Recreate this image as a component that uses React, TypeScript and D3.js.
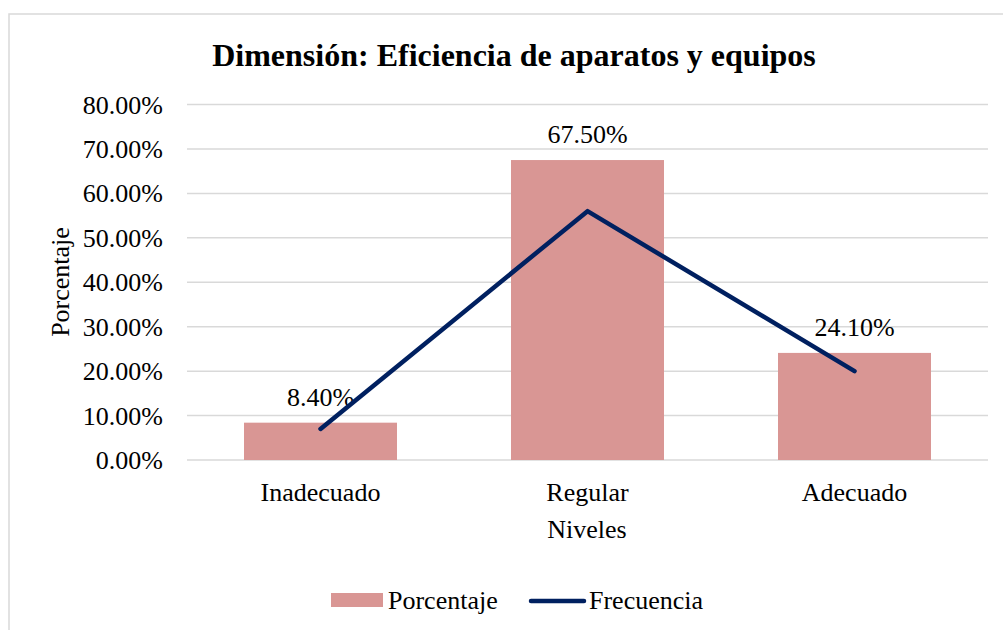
import React from "react";
import * as d3 from "d3";

const categories = ["Inadecuado", "Regular", "Adecuado"];
const porcentaje = [8.4, 67.5, 24.1];
const frecuencia = [7, 56, 20];
const yTicks = [0, 10, 20, 30, 40, 50, 60, 70, 80];

const W = 1003;
const H = 630;
const FONT = "'Liberation Serif', 'Times New Roman', serif";

export default function App() {
  const left = 187, right = 988, top = 104.5, bottom = 460;
  const x = d3.scaleBand<string>().domain(categories).range([left, right]).paddingInner(0.427).paddingOuter(0.2135);
  const y = d3.scaleLinear().domain([0, 80]).range([bottom, top]);
  const line = d3.line<number>()
    .x((_, i) => (x(categories[i]) as number) + x.bandwidth() / 2)
    .y((d) => y(d));

  return (
    <svg width={W} height={H} style={{ position: "absolute", left: 0, top: 0, background: "#fff" }} fontFamily={FONT}>
      <rect x={9} y={14} width={W} height={H} fill="#fff" stroke="#d9d9d9" strokeWidth={1.5} />
      <text x={514} y={66} textAnchor="middle" fontSize={32} fontWeight="bold" fill="#000">
        Dimensión: Eficiencia de aparatos y equipos
      </text>
      {yTicks.map((t) => (
        <g key={t}>
          <line x1={left} x2={right} y1={y(t)} y2={y(t)} stroke="#d9d9d9" strokeWidth={1.5} />
          <text x={163} y={y(t)} dy="0.35em" textAnchor="end" fontSize={26} fill="#000">
            {t.toFixed(2) + "%"}
          </text>
        </g>
      ))}
      {categories.map((c, i) => (
        <g key={c}>
          <rect x={x(c)} y={y(porcentaje[i])} width={x.bandwidth()} height={bottom - y(porcentaje[i])} fill="#d99694" />
          <text x={(x(c) as number) + x.bandwidth() / 2} y={y(porcentaje[i]) - 17} textAnchor="middle" fontSize={26} fill="#000">
            {porcentaje[i].toFixed(2) + "%"}
          </text>
          <text x={(x(c) as number) + x.bandwidth() / 2} y={501} textAnchor="middle" fontSize={26} fill="#000">
            {c}
          </text>
        </g>
      ))}
      <path d={line(frecuencia) || ""} fill="none" stroke="#002060" strokeWidth={4.5} strokeLinecap="round" strokeLinejoin="round" />
      <text x={587} y={538} textAnchor="middle" fontSize={26} fill="#000">Niveles</text>
      <text transform="translate(69,282) rotate(-90)" textAnchor="middle" fontSize={26} fill="#000">Porcentaje</text>
      <rect x={331} y={593} width={52} height={14} fill="#d99694" />
      <text x={388} y={609} fontSize={26} fill="#000">Porcentaje</text>
      <line x1={531} x2={584} y1={601} y2={601} stroke="#002060" strokeWidth={4.5} strokeLinecap="round" />
      <text x={589} y={609} fontSize={26} fill="#000">Frecuencia</text>
    </svg>
  );
}
